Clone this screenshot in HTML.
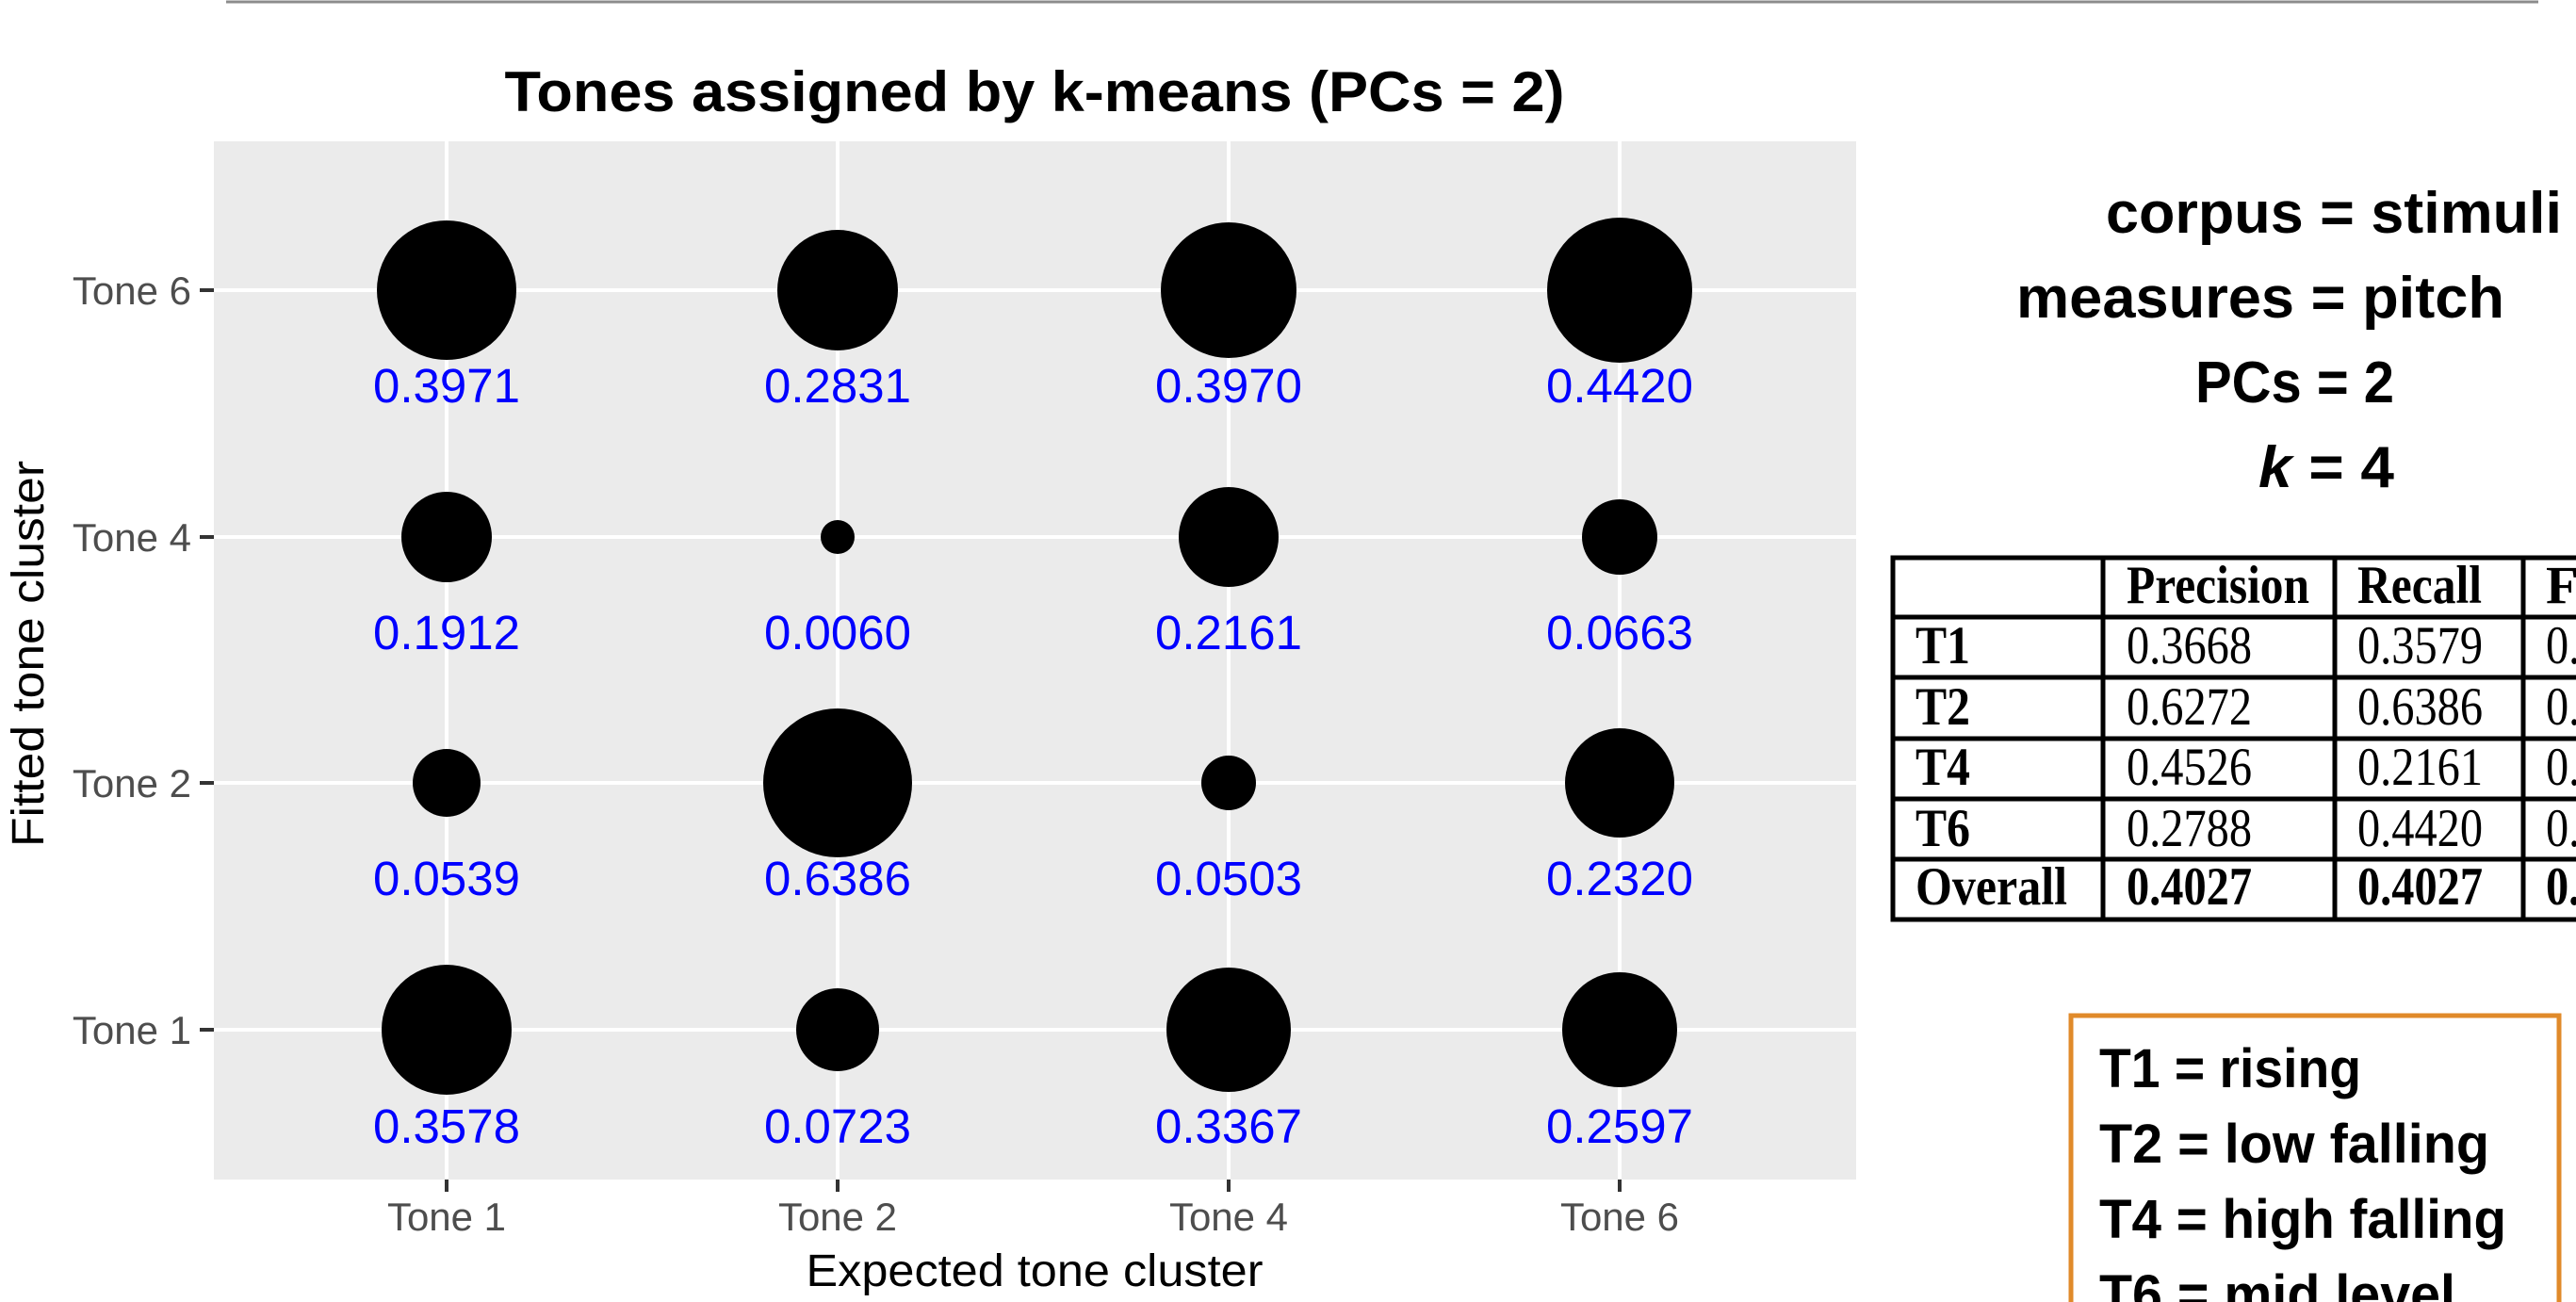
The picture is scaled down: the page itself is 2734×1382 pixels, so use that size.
<!DOCTYPE html>
<html><head><meta charset="utf-8"><style>
html,body{margin:0;padding:0;background:#fff;}
svg{display:block;}
</style></head><body>
<svg width="2734" height="1382" viewBox="0 0 2734 1382" xmlns="http://www.w3.org/2000/svg">
<line x1="240" y1="2" x2="2694" y2="2" stroke="#8c8c8c" stroke-width="3"/>
<text x="1098" y="118" text-anchor="middle" font-family="Liberation Sans, sans-serif" font-weight="bold" font-size="60" textLength="1125" lengthAdjust="spacingAndGlyphs">Tones assigned by k-means (PCs = 2)</text>
<rect x="227" y="150" width="1743" height="1102" fill="#ebebeb"/>
<g stroke="#ffffff" stroke-width="4">
<line x1="474" y1="150" x2="474" y2="1252"/><line x1="889" y1="150" x2="889" y2="1252"/>
<line x1="1304" y1="150" x2="1304" y2="1252"/><line x1="1719" y1="150" x2="1719" y2="1252"/>
<line x1="227" y1="308" x2="1970" y2="308"/><line x1="227" y1="570" x2="1970" y2="570"/>
<line x1="227" y1="831" x2="1970" y2="831"/><line x1="227" y1="1093" x2="1970" y2="1093"/>
</g>
<g stroke="#333" stroke-width="4">
<line x1="212" y1="308" x2="227" y2="308"/><line x1="212" y1="570" x2="227" y2="570"/>
<line x1="212" y1="831" x2="227" y2="831"/><line x1="212" y1="1093" x2="227" y2="1093"/>
<line x1="474" y1="1252" x2="474" y2="1265"/><line x1="889" y1="1252" x2="889" y2="1265"/>
<line x1="1304" y1="1252" x2="1304" y2="1265"/><line x1="1719" y1="1252" x2="1719" y2="1265"/>
</g>
<g fill="#000">
<circle cx="474" cy="308" r="74"/><circle cx="889" cy="308" r="64"/><circle cx="1304" cy="308" r="72"/><circle cx="1719" cy="308" r="77"/>
<circle cx="474" cy="570" r="48"/><circle cx="889" cy="570" r="18"/><circle cx="1304" cy="570" r="53"/><circle cx="1719" cy="570" r="40"/>
<circle cx="474" cy="831" r="36"/><circle cx="889" cy="831" r="79"/><circle cx="1304" cy="831" r="29"/><circle cx="1719" cy="831" r="58"/>
<circle cx="474" cy="1093" r="69"/><circle cx="889" cy="1093" r="44"/><circle cx="1304" cy="1093" r="66"/><circle cx="1719" cy="1093" r="61"/>
</g>
<g fill="#0000ff" font-family="Liberation Sans, sans-serif" font-size="51" text-anchor="middle">
<text x="474" y="427">0.3971</text><text x="889" y="427">0.2831</text><text x="1304" y="427">0.3970</text><text x="1719" y="427">0.4420</text>
<text x="474" y="689">0.1912</text><text x="889" y="689">0.0060</text><text x="1304" y="689">0.2161</text><text x="1719" y="689">0.0663</text>
<text x="474" y="950">0.0539</text><text x="889" y="950">0.6386</text><text x="1304" y="950">0.0503</text><text x="1719" y="950">0.2320</text>
<text x="474" y="1213">0.3578</text><text x="889" y="1213">0.0723</text><text x="1304" y="1213">0.3367</text><text x="1719" y="1213">0.2597</text>
</g>
<g fill="#4d4d4d" font-family="Liberation Sans, sans-serif" font-size="42">
<g text-anchor="end">
<text x="203" y="323">Tone 6</text><text x="203" y="585">Tone 4</text><text x="203" y="846">Tone 2</text><text x="203" y="1108">Tone 1</text>
</g>
<g text-anchor="middle">
<text x="474" y="1306">Tone 1</text><text x="889" y="1306">Tone 2</text><text x="1304" y="1306">Tone 4</text><text x="1719" y="1306">Tone 6</text>
</g>
</g>
<text x="1098" y="1365" text-anchor="middle" font-family="Liberation Sans, sans-serif" font-size="48" textLength="485" lengthAdjust="spacingAndGlyphs">Expected tone cluster</text>
<text transform="translate(46,694) rotate(-90)" text-anchor="middle" font-family="Liberation Sans, sans-serif" font-size="48" textLength="410" lengthAdjust="spacingAndGlyphs">Fitted tone cluster</text>
<g font-family="Liberation Sans, sans-serif" font-weight="bold" font-size="62">
<text x="2235" y="247" textLength="484" lengthAdjust="spacingAndGlyphs">corpus = stimuli</text>
<text x="2140" y="337" textLength="518" lengthAdjust="spacingAndGlyphs">measures = pitch</text>
<text x="2330" y="427" textLength="211" lengthAdjust="spacingAndGlyphs">PCs = 2</text>
<text x="2397" y="517" textLength="144" lengthAdjust="spacingAndGlyphs"><tspan font-style="italic">k</tspan> = 4</text>
</g>
<g stroke="#000" stroke-width="5" fill="none">
<rect x="2009" y="592" width="740" height="384"/>
<line x1="2009" y1="655" x2="2734" y2="655"/><line x1="2009" y1="719" x2="2734" y2="719"/>
<line x1="2009" y1="784" x2="2734" y2="784"/><line x1="2009" y1="848" x2="2734" y2="848"/>
<line x1="2009" y1="912" x2="2734" y2="912"/>
<line x1="2232" y1="592" x2="2232" y2="976"/><line x1="2478" y1="592" x2="2478" y2="976"/><line x1="2678" y1="592" x2="2678" y2="976"/>
</g>
<g font-family="Liberation Serif, serif" font-size="57">
<g font-weight="bold">
<text x="2257" y="640" textLength="194" lengthAdjust="spacingAndGlyphs">Precision</text>
<text x="2502" y="640" textLength="132" lengthAdjust="spacingAndGlyphs">Recall</text>
<text x="2702" y="640">F</text>
<text x="2033" y="704" textLength="58" lengthAdjust="spacingAndGlyphs">T1</text>
<text x="2033" y="769" textLength="58" lengthAdjust="spacingAndGlyphs">T2</text>
<text x="2033" y="833" textLength="58" lengthAdjust="spacingAndGlyphs">T4</text>
<text x="2033" y="898" textLength="58" lengthAdjust="spacingAndGlyphs">T6</text>
<text x="2033" y="960" textLength="161" lengthAdjust="spacingAndGlyphs">Overall</text>
<text x="2257" y="960" textLength="133" lengthAdjust="spacingAndGlyphs">0.4027</text>
<text x="2502" y="960" textLength="133" lengthAdjust="spacingAndGlyphs">0.4027</text>
<text x="2702" y="960" textLength="133" lengthAdjust="spacingAndGlyphs">0.4027</text>
</g>
<text x="2257" y="704" textLength="133" lengthAdjust="spacingAndGlyphs">0.3668</text>
<text x="2502" y="704" textLength="133" lengthAdjust="spacingAndGlyphs">0.3579</text>
<text x="2702" y="704" textLength="133" lengthAdjust="spacingAndGlyphs">0.3623</text>
<text x="2257" y="769" textLength="133" lengthAdjust="spacingAndGlyphs">0.6272</text>
<text x="2502" y="769" textLength="133" lengthAdjust="spacingAndGlyphs">0.6386</text>
<text x="2702" y="769" textLength="133" lengthAdjust="spacingAndGlyphs">0.6328</text>
<text x="2257" y="833" textLength="133" lengthAdjust="spacingAndGlyphs">0.4526</text>
<text x="2502" y="833" textLength="133" lengthAdjust="spacingAndGlyphs">0.2161</text>
<text x="2702" y="833" textLength="133" lengthAdjust="spacingAndGlyphs">0.2925</text>
<text x="2257" y="898" textLength="133" lengthAdjust="spacingAndGlyphs">0.2788</text>
<text x="2502" y="898" textLength="133" lengthAdjust="spacingAndGlyphs">0.4420</text>
<text x="2702" y="898" textLength="133" lengthAdjust="spacingAndGlyphs">0.3419</text>
</g>
<rect x="2198" y="1078" width="518" height="330" fill="none" stroke="#e08a2a" stroke-width="5"/>
<g font-family="Liberation Sans, sans-serif" font-weight="bold" font-size="58">
<text x="2228" y="1154" textLength="278" lengthAdjust="spacingAndGlyphs">T1 = rising</text>
<text x="2228" y="1234" textLength="414" lengthAdjust="spacingAndGlyphs">T2 = low falling</text>
<text x="2228" y="1314" textLength="432" lengthAdjust="spacingAndGlyphs">T4 = high falling</text>
<text x="2228" y="1394" textLength="378" lengthAdjust="spacingAndGlyphs">T6 = mid level</text>
</g>
</svg>
</body></html>
